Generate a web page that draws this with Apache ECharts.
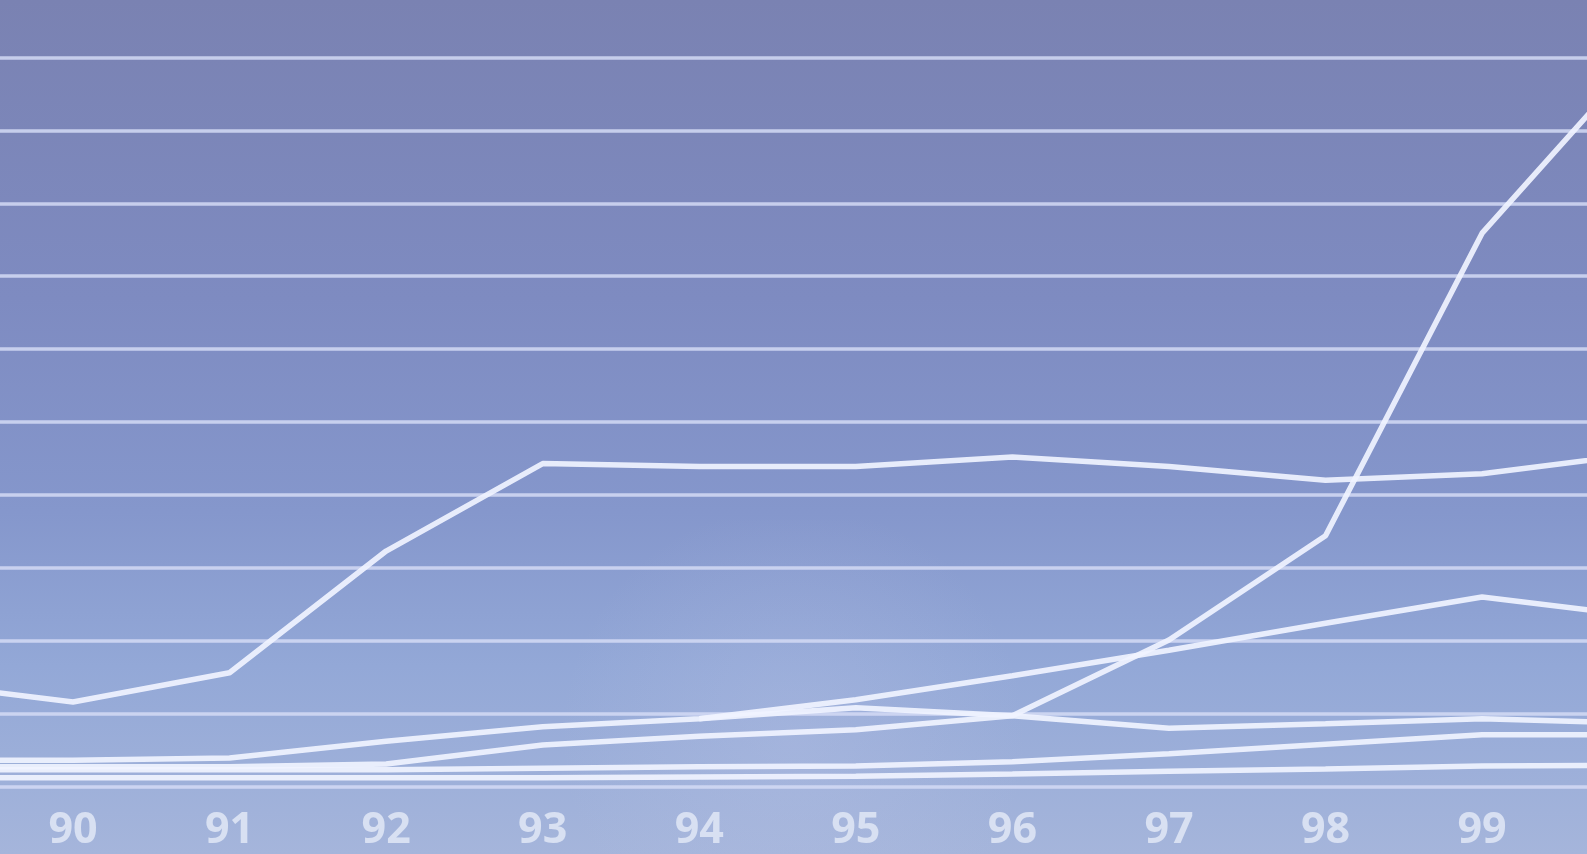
<!DOCTYPE html>
<html>
<head>
<meta charset="utf-8">
<title>Line chart 90-99</title>
<script src="https://cdn.jsdelivr.net/npm/echarts@6/dist/echarts.min.js"></script>
<style>
  html, body { margin: 0; padding: 0; }
  #chart { width: 1587px; height: 854px; }
</style>
</head>
<body>
<div id="chart"></div>
<script>
// years (89 and 00 sit just outside the visible area)
const years = ['89', '90', '91', '92', '93', '94', '95', '96', '97', '98', '99', '00'];
const tickLabels = ['90', '91', '92', '93', '94', '95', '96', '97', '98', '99'];

// values, one per year (null = no point)
const seriesA = [14.2, 11.6, 15.6, 32.3, 44.3, 43.9, 43.9, 45.2, 43.9, 42.0, 42.9, 45.6];
const seriesB = [2.7, 2.7, 2.7, 3.1, 5.7, 6.9, 7.8, 9.7, 20.1, 34.4, 75.9, 99.9];
const seriesC = [3.6, 3.6, 3.9, 6.2, 8.2, 9.3, 11.9, 15.2, 18.7, 22.4, 26.0, 23.4];
const seriesD = [null, null, null, null, null, 9.3, 10.8, 9.7, 8.0, 8.6, 9.3, 8.7];
const seriesE = [2.3, 2.3, 2.3, 2.3, 2.5, 2.7, 2.8, 3.4, 4.5, 5.8, 7.1, 7.1];
const seriesF = [1.2, 1.2, 1.2, 1.2, 1.2, 1.3, 1.4, 1.7, 2.1, 2.4, 2.8, 2.9];

const allSeries = [seriesA, seriesB, seriesC, seriesD, seriesE, seriesF];

const chart = echarts.init(document.getElementById('chart'));

// x position of each year: 90 -> 0
const toPairs = (vals) => vals.map((v, i) => [i - 1, v]);

const option = {
  backgroundColor: new echarts.graphic.LinearGradient(0, 0, 0, 1, [
    { offset: 0, color: '#7a82b2' },
    { offset: 0.35, color: '#7e8bc1' },
    { offset: 0.6, color: '#8597cc' },
    { offset: 0.78, color: '#93a8d7' },
    { offset: 1, color: '#a5b5db' }
  ]),
  animation: false,
  graphic: [
    {
      type: 'rect',
      shape: { x: 0, y: 520, width: 1587, height: 334 },
      style: {
        fill: new echarts.graphic.RadialGradient(0.5, 0.65, 0.7, [
          { offset: 0, color: 'rgba(185,195,230,0.3)' },
          { offset: 1, color: 'rgba(185,195,230,0)' }
        ])
      },
      z: -10,
      silent: true
    }
  ],
  grid: {
    left: 0,
    right: 0,
    top: 57.5,
    bottom: 67.5
  },
  xAxis: {
    type: 'value',
    min: -0.4663,
    max: 9.670,
    axisLine: { show: false },
    axisTick: { show: false },
    splitLine: { show: false },
    axisLabel: {
      customValues: tickLabels.map((t, i) => i),
      formatter: (v) => tickLabels[Math.round(v)],
      color: '#d8e0f2',
      fontFamily: 'Open Sans',
      fontWeight: 'bold',
      fontSize: 43,
      verticalAlign: 'middle',
      margin: 44
    }
  },
  yAxis: {
    type: 'value',
    min: 0,
    max: 100,
    interval: 10,
    axisLine: { show: false },
    axisTick: { show: false },
    axisLabel: { show: false },
    splitLine: {
      lineStyle: { color: 'rgba(212,219,244,0.85)', width: 3.5 }
    }
  },
  series: allSeries.map((vals) => ({
    type: 'line',
    data: toPairs(vals),
    symbol: 'none',
    connectNulls: false,
    lineStyle: { color: 'rgba(240,243,255,0.92)', width: 5.5 },
    z: 3
  }))
};

chart.setOption(option);
</script>
</body>
</html>
